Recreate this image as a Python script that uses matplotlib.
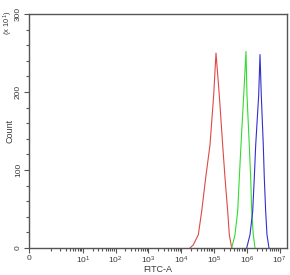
import numpy as np
import matplotlib
matplotlib.use('Agg')
import matplotlib.pyplot as plt

plt.rcParams['font.family'] = ['Liberation Sans', 'DejaVu Sans']
plt.rcParams['mathtext.fontset'] = 'custom'
plt.rcParams['mathtext.rm'] = 'Liberation Sans'
plt.rcParams['mathtext.it'] = 'Liberation Sans'

# histogram outlines (FITC-A value, count in units of 10)
red_x = [18650, 23490, 33400, 42340, 56070, 75800, 98350, 115600, 145700, 184800, 217600, 262900, 294200, 348200]
red_y = [0, 4, 17, 47, 90, 132, 196, 250, 196, 132, 90, 47, 17, 0]

green_x = [348200, 438400, 530400, 593900, 667900, 808700, 949900, 1018000, 1196000, 1320000, 1418000, 1584000, 1785000]
green_y = [0, 17, 47, 90, 132, 196, 252, 196, 132, 90, 47, 17, 0]

blue_x = [997000, 1258000, 1520000, 1701000, 1878000, 2316000, 2539000, 2778000, 3197000, 3434000, 3781000, 4147000, 4773000]
blue_y = [0, 17, 47, 90, 132, 196, 248, 196, 132, 90, 47, 17, 0]

xtick_vals = [0, 10, 100, 1000, 1e4, 1e5, 1e6, 1e7]
xtick_labels = ['0', '$10^1$', '$10^2$', '$10^3$', '$10^4$', '$10^5$', '$10^6$', '$10^7$']
ytick_vals = [0, 100, 200, 300]

txt = '#3a3a3a'
fig = plt.figure(figsize=(2.9, 2.75), dpi=100)
ax = fig.add_axes([29/290, 1-248/275, 258/290, 234/275])

ax.plot(red_x, red_y, color='#e04848', lw=0.8)
ax.plot(green_x, green_y, color='#30dd30', lw=0.8)
ax.plot(blue_x, blue_y, color='#3030d0', lw=0.8)

ax.set_xscale('asinh', linear_width=0.46)
ax.set_xlim(0, 1.69e7)
ax.set_ylim(0, 300)

ax.set_xticks(xtick_vals)
ax.set_xticklabels(xtick_labels)
minor = [m * 10**k for k in range(0, 7) for m in range(1, 10) if not (m == 1 and k > 0)]
ax.set_xticks(minor, minor=True)
ax.set_yticks(ytick_vals)
ax.set_yticklabels([str(v) for v in ytick_vals], rotation=90, va='center')
ax.set_yticks(np.arange(0, 301, 20), minor=True)

ax.tick_params(which='both', direction='out', colors='#555555', labelcolor=txt, labelsize=6, width=0.8)
ax.tick_params(which='major', length=3.5, pad=1.5)
ax.tick_params(which='minor', length=2)
for s in ax.spines.values():
    s.set_color('#555555')
    s.set_linewidth(1)

ax.set_xlabel('FITC-A', fontsize=6.5, color=txt, va='center')
ax.xaxis.set_label_coords(0.5, -21.5/234)
ax.set_ylabel('Count', fontsize=6.5, color=txt, va='center')
ax.yaxis.set_label_coords(-19/258, 0.5)
fig.text(8.5/290, 1-23/275, '(x 10$^1$)', rotation=90, fontsize=5.5, color=txt, ha='center', va='center')

fig.savefig('out.png', dpi=100)
